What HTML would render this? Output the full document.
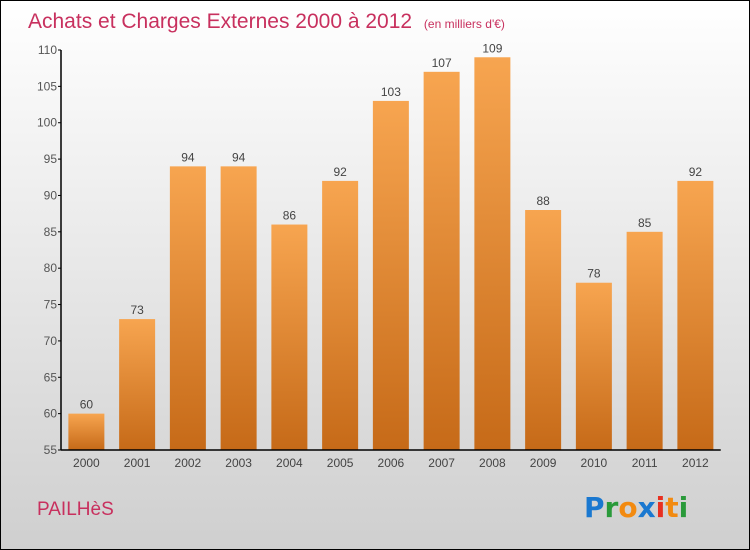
<!DOCTYPE html>
<html><head><meta charset="utf-8"><style>
body{margin:0;}
#c{width:748px;height:548px;border:1px solid #000;background:linear-gradient(#fff,#cfcfcf);position:relative;overflow:hidden;font-family:"Liberation Sans",sans-serif;}
</style></head><body>
<div id="c">
<svg width="748" height="548" id="s">
<defs><linearGradient id="g" x1="0" y1="0" x2="0" y2="1"><stop offset="0" stop-color="#f7a550"/><stop offset="1" stop-color="#c66a18"/></linearGradient></defs>
<text x="27" y="27" font-size="21" fill="#c8305e">Achats et Charges Externes 2000 à 2012 <tspan font-size="12" dx="6">(en milliers d'€)</tspan></text>
<text x="36" y="514" font-size="19" fill="#c8305e">PAILHèS</text>
<g font-size="28" font-weight="bold" font-family="'DejaVu Sans',sans-serif">
<text x="583" y="516"><tspan fill="#1a78d0">P</tspan><tspan fill="#2a9a3a">r</tspan><tspan fill="#f28a10">o</tspan><tspan fill="#1a78d0">x</tspan><tspan fill="#e83020">i</tspan><tspan fill="#f28a10">t</tspan><tspan fill="#2a9a3a">i</tspan></text></g>
<g id="plot"></g>
</svg></div>
<script>
const categories=["2000","2001","2002","2003","2004","2005","2006","2007","2008","2009","2010","2011","2012"];
const values=[60,73,94,94,86,92,103,107,109,88,78,85,92];
const ticks=[55,60,65,70,75,80,85,90,95,100,105,110];
const NS="http://www.w3.org/2000/svg";
const g=document.getElementById('plot');
const y0=449,yTop=49,vMin=55,vMax=110,x0=60,step=50.75;
const y=v=>y0-(v-vMin)/(vMax-vMin)*(y0-yTop);
const x=i=>x0+step*(i+0.5);
function el(t,a){const e=document.createElementNS(NS,t);for(const k in a)e.setAttribute(k,a[k]);g.appendChild(e);return e;}
categories.forEach((c,i)=>{
 const r=el('rect',{x:x(i)-18,y:y(values[i]),width:36,height:y0-y(values[i]),fill:'url(#g)'});
 
 
 const t=el('text',{x:x(i),y:y(values[i])-5,'text-anchor':'middle','font-size':12,fill:'#444'});
 t.textContent=values[i];
 
 
 const l=el('text',{x:x(i),y:466,'text-anchor':'middle','font-size':12,fill:'#444'});
 l.textContent=c;
 
 
});
ticks.forEach(v=>{
 const tk=el('line',{x1:x0-3,x2:x0,y1:y(v),y2:y(v),stroke:'#000'});
 
 
 const t=el('text',{x:x0-4,y:y(v)+4,'text-anchor':'end','font-size':12,fill:'#555'});
 t.textContent=v;
 
 
});
const ya=el('line',{x1:x0,x2:x0,y1:yTop,y2:y0,stroke:'#000','stroke-width':1.5});


const xa=el('line',{x1:x0,x2:x0+step*13,y1:y0,y2:y0,stroke:'#000','stroke-width':1.5});


</script>
</body></html>
